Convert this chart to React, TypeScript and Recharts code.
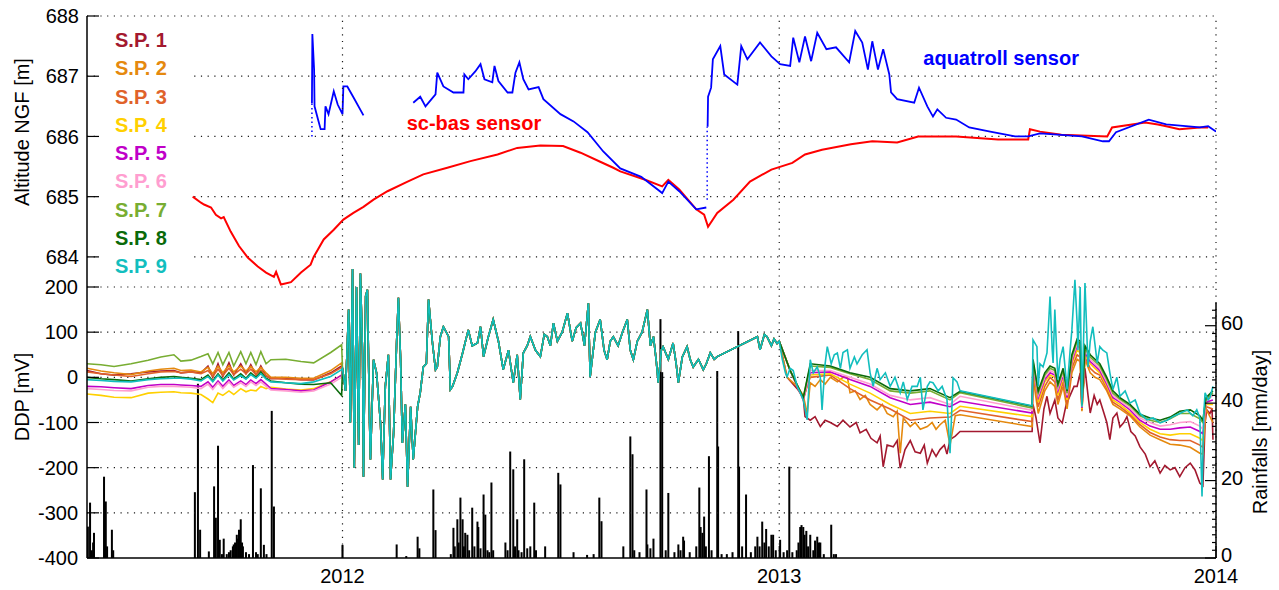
import React from 'react';
import {
  ComposedChart,
  LineChart,
  Line,
  Bar,
  XAxis,
  YAxis,
  ReferenceLine,
  ReferenceDot,
  Legend,
} from 'recharts';

type Pt = [number, number | null];

// ---------- Groundwater level, m NGF (time in decimal years) ----------
const scBasLevel: Pt[] = [
  [2011.657, 685.0], [2011.676, 684.9], [2011.683, 684.87], [2011.699, 684.82], [2011.71, 684.7],
  [2011.722, 684.64], [2011.728, 684.66], [2011.744, 684.42], [2011.763, 684.18], [2011.783, 683.99],
  [2011.806, 683.84], [2011.825, 683.74], [2011.843, 683.67], [2011.848, 683.75], [2011.859, 683.54],
  [2011.882, 683.58], [2011.905, 683.74], [2011.927, 683.87], [2011.934, 684.0], [2011.957, 684.29],
  [2011.98, 684.45], [2012.002, 684.62], [2012.025, 684.73], [2012.048, 684.83], [2012.071, 684.95],
  [2012.103, 685.09], [2012.149, 685.25], [2012.185, 685.37], [2012.24, 685.48], [2012.293, 685.59],
  [2012.355, 685.7], [2012.4, 685.81], [2012.453, 685.85], [2012.505, 685.84], [2012.545, 685.73],
  [2012.59, 685.58], [2012.62, 685.48], [2012.636, 685.42], [2012.693, 685.28], [2012.732, 685.17],
  [2012.746, 685.28], [2012.771, 685.12], [2012.81, 684.79], [2012.828, 684.7], [2012.837, 684.5],
  [2012.858, 684.73], [2012.895, 684.95], [2012.933, 685.25], [2012.982, 685.45], [2013.03, 685.56],
  [2013.059, 685.7], [2013.098, 685.78], [2013.164, 685.87], [2013.213, 685.92], [2013.27, 685.9],
  [2013.318, 686.0], [2013.405, 686.0], [2013.501, 685.95], [2013.57, 685.95], [2013.574, 686.12],
  [2013.597, 686.08], [2013.646, 686.03], [2013.751, 686.0], [2013.762, 686.15], [2013.838, 686.23],
  [2013.867, 686.2], [2013.886, 686.17], [2013.916, 686.12], [2013.963, 686.15], [2013.982, 686.15],
];

const aquatrollLevel: Pt[] = [
  [2011.93, 686.55], [2011.931, 687.7], [2011.935, 687.11], [2011.936, 686.5], [2011.944, 686.28],
  [2011.95, 686.12], [2011.959, 686.12], [2011.961, 686.5], [2011.968, 686.37], [2011.98, 686.75],
  [2011.989, 686.53], [2012.0, 686.37], [2012.002, 686.83], [2012.011, 686.83], [2012.025, 686.65],
  [2012.048, 686.35],
  [2012.1, null],
  [2012.162, 686.56], [2012.178, 686.66], [2012.19, 686.5], [2012.213, 686.7], [2012.217, 687.06],
  [2012.231, 686.83], [2012.254, 686.73], [2012.277, 686.73], [2012.279, 687.03], [2012.288, 686.95],
  [2012.304, 687.08], [2012.316, 687.2], [2012.325, 686.95], [2012.343, 686.9], [2012.348, 687.17],
  [2012.357, 686.92], [2012.378, 686.73], [2012.389, 686.73], [2012.396, 687.06], [2012.405, 687.23],
  [2012.414, 686.95], [2012.426, 686.78], [2012.449, 686.82], [2012.46, 686.62], [2012.499, 686.37],
  [2012.529, 686.25], [2012.561, 686.07], [2012.597, 685.75], [2012.636, 685.47], [2012.684, 685.33],
  [2012.732, 685.06], [2012.746, 685.25], [2012.771, 685.09], [2012.81, 684.79], [2012.833, 684.82],
  [2012.835, null],
  [2012.836, 686.16], [2012.837, 686.66], [2012.844, 686.81], [2012.848, 687.28], [2012.865, 687.5],
  [2012.874, 687.03], [2012.904, 686.86], [2012.913, 687.5], [2012.927, 687.28], [2012.956, 687.56],
  [2012.982, 687.33], [2013.002, 687.2], [2013.025, 687.17], [2013.032, 687.64], [2013.046, 687.23],
  [2013.059, 687.66], [2013.073, 687.25], [2013.087, 687.72], [2013.108, 687.45], [2013.13, 687.48],
  [2013.16, 687.23], [2013.174, 687.75], [2013.19, 687.56], [2013.203, 687.11], [2013.213, 687.58],
  [2013.226, 687.11], [2013.238, 687.45], [2013.252, 687.03], [2013.256, 686.73], [2013.27, 686.62],
  [2013.309, 686.56], [2013.32, 686.81], [2013.339, 686.5], [2013.352, 686.33], [2013.362, 686.45],
  [2013.382, 686.31], [2013.405, 686.28], [2013.435, 686.15], [2013.483, 686.08], [2013.54, 686.0],
  [2013.57, 686.0], [2013.597, 686.05], [2013.693, 686.0], [2013.741, 685.92], [2013.755, 685.92],
  [2013.771, 686.07], [2013.846, 686.28], [2013.886, 686.2], [2013.963, 686.15], [2013.982, 686.17],
  [2014.0, 686.08],
];

// sparse aquatroll readings (drawn dotted)
const aquatrollSparse: Pt[] = [
  [2011.93, 686.0], [2011.93, 686.55],
  [2012.5, null],
  [2012.835, 684.95], [2012.835, 686.16],
];

// ---------- Self-potential electrodes ----------
const sensorNames = ['S.P. 1', 'S.P. 2', 'S.P. 3', 'S.P. 4', 'S.P. 5', 'S.P. 6', 'S.P. 7', 'S.P. 8', 'S.P. 9'];
const sensorColors = ['#A3192F', '#E5890E', '#E0622A', '#FFD000', '#C000C8', '#FF9ED0', '#78AD32', '#0A6A0A', '#12BEBE'];

// 2011 record, sampled on a common time base (mV)
const earlyTimes = [
  2011.415, 2011.447, 2011.477, 2011.516, 2011.555, 2011.584, 2011.614, 2011.63, 2011.653, 2011.676,
  2011.692, 2011.703, 2011.715, 2011.726, 2011.74, 2011.751, 2011.767, 2011.779, 2011.79, 2011.802,
  2011.813, 2011.825, 2011.836, 2011.87, 2011.905, 2011.934, 2011.973, 2011.998,
];
const sp1Early = [15, 8, 5, 8, 12, 14, 15, 10, 12, 10, 25, 0, 30, 2, 32, 5, 30, 8, 28, 5, 25, 3, -3, -2, -5, -6, 10, 25];
const sp2Early = [20, 14, 10, 6, 14, 18, 20, 15, 16, 12, 22, 8, 25, 10, 26, 12, 25, 14, 24, 12, 22, 10, 0, 0, -2, -2, 15, 32];
const sp3Early = [12, 8, 5, 2, 8, 12, 13, 10, 12, 8, 15, 2, 18, 4, 20, 6, 18, 8, 18, 6, 16, 4, -2, -4, -5, -5, 8, 22];
const sp4Early = [-37, -40, -44, -45, -35, -33, -32, -34, -35, -38, -48, -56, -35, -40, -30, -38, -25, -32, -28, -30, -20, -25, -22, -26, -28, -25, -10, 5];
const sp5Early = [-20, -21, -23, -25, -18, -16, -16, -17, -18, -20, -10, -22, -8, -20, -6, -18, -8, -16, -6, -14, -5, -15, -25, -27, -30, -28, -10, 5];
const sp6Early = [-25, -27, -29, -30, -22, -20, -20, -21, -22, -25, -15, -27, -12, -25, -10, -22, -12, -20, -10, -18, -10, -20, -28, -30, -33, -30, -15, 0];
const sp7Early = [30, 28, 24, 30, 38, 45, 50, 36, 38, 46, 52, 30, 55, 28, 55, 25, 57, 30, 55, 28, 57, 30, 39, 40, 35, 32, 55, 72];
const sp8Early = [0, -3, -5, -8, -3, 0, 2, 0, -2, -5, 5, -8, 8, -6, 10, -4, 8, -2, 10, 0, 12, -2, -8, -12, -15, -16, -12, -40];
const sp9Early = [-5, -7, -9, -10, -5, -3, -2, -2, -4, -8, 2, -10, 5, -8, 6, -6, 4, -4, 6, -2, 8, -4, -10, -12, -14, -10, 2, 17];

// 2012: all electrodes read the same signal
const ddp2012: Pt[] = [
  [2012.0, 20], [2012.007, -30], [2012.014, 150], [2012.018, -100], [2012.023, 240], [2012.027, -200],
  [2012.032, 200], [2012.037, -150], [2012.041, 230], [2012.046, 50], [2012.048, -220], [2012.053, 180],
  [2012.057, 194], [2012.062, -100], [2012.064, -182], [2012.071, 39], [2012.078, 10], [2012.087, -101],
  [2012.092, -226], [2012.098, -20], [2012.105, 50], [2012.11, -226], [2012.117, -123], [2012.124, 80],
  [2012.128, 176], [2012.133, 40], [2012.137, -145], [2012.144, -60], [2012.149, -242], [2012.156, -65],
  [2012.162, -182], [2012.172, -65], [2012.178, -34], [2012.185, 23], [2012.192, 30], [2012.197, 172],
  [2012.206, 76], [2012.213, 17], [2012.217, 23], [2012.224, 90], [2012.231, 112], [2012.243, 90],
  [2012.247, -27], [2012.252, -20], [2012.263, 10], [2012.275, 54], [2012.288, 105], [2012.297, 70],
  [2012.309, 76], [2012.316, 112], [2012.323, 46], [2012.334, 90], [2012.345, 128], [2012.357, 80],
  [2012.368, 17], [2012.38, 60], [2012.391, -12], [2012.4, 50], [2012.407, -49], [2012.414, 54],
  [2012.423, 70], [2012.43, 90], [2012.442, 60], [2012.453, 46], [2012.462, 95], [2012.469, 90],
  [2012.476, 70], [2012.483, 120], [2012.492, 80], [2012.503, 100], [2012.515, 142], [2012.526, 80],
  [2012.535, 110], [2012.545, 120], [2012.554, 70], [2012.563, 164], [2012.567, 1], [2012.579, 100],
  [2012.59, 128], [2012.599, 60], [2012.606, 39], [2012.613, 80], [2012.62, 90], [2012.631, 70],
  [2012.641, 100], [2012.652, 128], [2012.659, 60], [2012.666, 39], [2012.675, 80], [2012.686, 100],
  [2012.698, 150], [2012.705, 70], [2012.712, 90], [2012.718, 40], [2012.723, -12], [2012.73, 60],
  [2012.734, 68], [2012.746, 40], [2012.757, 76], [2012.764, 30], [2012.769, -12], [2012.778, 45],
  [2012.789, 68], [2012.796, 40], [2012.803, 23], [2012.815, 40], [2012.826, 17], [2012.833, 30],
  [2012.842, 54], [2012.851, 40], [2012.858, 46], [2012.95, 90], [2012.956, 61], [2012.966, 95],
  [2012.972, 90], [2012.982, 70], [2012.988, 85], [2012.995, 75],
];

// 2013 record of electrodes 1, 2 and 9
const sp1Late: Pt[] = [
  [2013.0, 80], [2013.018, 0], [2013.041, -25], [2013.055, -45], [2013.059, -87], [2013.071, -95],
  [2013.082, -87], [2013.094, -109], [2013.105, -95], [2013.117, -100], [2013.133, -109], [2013.146, -95],
  [2013.162, -110], [2013.176, -100], [2013.185, -123], [2013.199, -115], [2013.21, -135], [2013.224, -145],
  [2013.231, -130], [2013.238, -198], [2013.247, -150], [2013.261, -154], [2013.27, -140], [2013.277, -201],
  [2013.288, -160], [2013.3, -140], [2013.311, -165], [2013.323, -168], [2013.332, -150], [2013.339, -190],
  [2013.35, -160], [2013.359, -175], [2013.368, -160], [2013.378, -150], [2013.384, -170], [2013.391, -138],
  [2013.403, -130], [2013.414, -120], [2013.579, -120], [2013.581, -60], [2013.588, -90], [2013.597, -145],
  [2013.606, -70], [2013.613, -42], [2013.62, -80], [2013.631, -50], [2013.638, -90], [2013.648, -101],
  [2013.657, -60], [2013.666, -40], [2013.675, -20], [2013.682, -20], [2013.689, 10], [2013.693, -60],
  [2013.7, 20], [2013.707, -40], [2013.712, -79], [2013.721, -40], [2013.728, -60], [2013.734, -50],
  [2013.741, -72], [2013.75, -100], [2013.757, -138], [2013.764, -90], [2013.773, -79], [2013.78, -110],
  [2013.789, -100], [2013.796, -87], [2013.805, -120], [2013.815, -130], [2013.826, -154], [2013.838, -170],
  [2013.849, -198], [2013.86, -185], [2013.872, -212], [2013.883, -195], [2013.895, -205], [2013.906, -200],
  [2013.917, -220], [2013.929, -200], [2013.941, -190], [2013.952, -205], [2013.963, -234], [2013.97, -240],
  [2013.975, -100], [2013.979, -72], [2013.986, -80], [2013.991, -70], [2013.993, -138],
];
const sp2Late: Pt[] = [
  [2013.0, 80], [2013.018, 0], [2013.041, -20], [2013.055, -40], [2013.064, -80], [2013.071, -12],
  [2013.082, -20], [2013.094, -5], [2013.105, -15], [2013.117, 0], [2013.133, -10], [2013.146, 0],
  [2013.156, 1], [2013.162, -34], [2013.174, -30], [2013.185, -49], [2013.197, -40], [2013.208, -60],
  [2013.224, -72], [2013.236, -60], [2013.247, -80], [2013.261, -87], [2013.27, -75], [2013.277, -168],
  [2013.284, -90], [2013.3, -109], [2013.311, -100], [2013.323, -115], [2013.339, -109], [2013.35, -100],
  [2013.359, -115], [2013.368, -105], [2013.38, -95], [2013.391, -150], [2013.403, -85], [2013.414, -83],
  [2013.579, -109], [2013.581, 0], [2013.593, -80], [2013.608, -30], [2013.62, -10], [2013.631, -20],
  [2013.638, -60], [2013.65, -20], [2013.659, -70], [2013.67, 10], [2013.682, 40], [2013.689, 35],
  [2013.693, -75], [2013.7, 40], [2013.712, 10], [2013.723, 0], [2013.734, -5], [2013.75, -30],
  [2013.764, -60], [2013.78, -70], [2013.803, -85], [2013.826, -110], [2013.849, -128], [2013.872, -138],
  [2013.895, -148], [2013.917, -150], [2013.941, -155], [2013.963, -168], [2013.97, -170], [2013.977, -70],
  [2013.993, -100],
];
const sp9Late: Pt[] = [
  [2013.0, 80], [2013.007, 40], [2013.014, 10], [2013.018, 1], [2013.025, 20], [2013.032, 15],
  [2013.041, -20], [2013.048, -34], [2013.055, -50], [2013.064, -94], [2013.071, 39], [2013.078, 10],
  [2013.087, 23], [2013.094, 0], [2013.098, -72], [2013.105, 30], [2013.11, 68], [2013.119, 30],
  [2013.126, 50], [2013.133, 54], [2013.14, 20], [2013.146, 55], [2013.156, 61], [2013.162, 20],
  [2013.172, 45], [2013.178, 30], [2013.19, 50], [2013.201, 61], [2013.208, 10], [2013.215, -20],
  [2013.224, 20], [2013.231, -5], [2013.243, 10], [2013.254, -20], [2013.265, 0], [2013.277, -34],
  [2013.284, -10], [2013.293, -49], [2013.304, -20], [2013.316, -20], [2013.323, 0], [2013.329, -72],
  [2013.339, -20], [2013.345, -10], [2013.352, -12], [2013.364, -30], [2013.373, -20], [2013.384, -49],
  [2013.391, -168], [2013.398, -1], [2013.407, -10], [2013.414, -30], [2013.579, -63], [2013.581, 83],
  [2013.59, 68], [2013.593, -20], [2013.597, 30], [2013.604, 23], [2013.613, 54], [2013.62, 179],
  [2013.625, 60], [2013.627, 32], [2013.631, 150], [2013.638, -5], [2013.643, 40], [2013.65, 68],
  [2013.659, -27], [2013.666, 60], [2013.67, 105], [2013.677, 216], [2013.682, 120], [2013.684, 60],
  [2013.689, 200], [2013.693, -65], [2013.7, 209], [2013.707, 23], [2013.712, 80], [2013.718, 112],
  [2013.728, 32], [2013.734, 68], [2013.741, 60], [2013.75, 54], [2013.757, 10], [2013.764, -27],
  [2013.773, 0], [2013.78, -42], [2013.792, -30], [2013.803, -57], [2013.815, -50], [2013.826, -80],
  [2013.842, -94], [2013.856, -90], [2013.872, -101], [2013.888, -95], [2013.901, -87], [2013.917, -80],
  [2013.934, -72], [2013.947, -85], [2013.956, -72], [2013.963, -90], [2013.968, -264], [2013.972, -80],
  [2013.975, -34], [2013.982, -50], [2013.986, -45], [2013.993, -20],
];

// 2013 record of electrodes 3 to 8, on a common time base
const lateTimes = [
  2013.0, 2013.025, 2013.055, 2013.071, 2013.117, 2013.162, 2013.208, 2013.254, 2013.3, 2013.345,
  2013.391, 2013.414, 2013.579, 2013.581, 2013.593, 2013.608, 2013.62, 2013.631, 2013.638, 2013.65,
  2013.659, 2013.67, 2013.682, 2013.689, 2013.693, 2013.7, 2013.712, 2013.723, 2013.734, 2013.75,
  2013.764, 2013.78, 2013.803, 2013.826, 2013.849, 2013.872, 2013.895, 2013.917, 2013.941, 2013.963,
  2013.97, 2013.977, 2013.993,
];
const sp3Late = [80, 15, -45, 0, 5, -25, -50, -70, -95, -90, -88, -73, -98, 10, -65, -20, 0, -10, -50, -10, -60, 20, 50, 45, -72, 45, 20, 10, 5, -25, -55, -65, -82, -105, -122, -132, -138, -140, -140, -150, -155, -65, -70];
const sp4Late = [80, 15, -50, 5, 8, -15, -35, -60, -80, -75, -80, -64, -87, 20, -55, -10, 5, 0, -40, 0, -50, 30, 60, 55, -70, 50, 30, 20, 10, -20, -50, -60, -78, -100, -115, -125, -128, -125, -125, -135, -140, -60, -60];
const sp5Late = [80, 15, -50, 10, 12, -5, -20, -45, -60, -55, -65, -53, -79, 25, -45, -5, 10, 5, -30, 5, -45, 35, 70, 65, -68, 55, 35, 25, 15, -15, -45, -55, -72, -95, -108, -115, -115, -112, -110, -120, -125, -55, -50];
const sp6Late = [80, 15, -48, 15, 15, 0, -15, -40, -50, -45, -60, -42, -73, 30, -40, 0, 15, 10, -25, 10, -40, 40, 75, 70, -65, 60, 40, 30, 20, -10, -40, -52, -68, -90, -100, -108, -105, -100, -98, -108, -115, -52, -40];
const sp7Late = [80, 15, -45, 25, 22, 8, -5, -30, -35, -30, -50, -34, -68, 35, -35, 5, 20, 15, -20, 15, -35, 45, 80, 75, -62, 65, 45, 35, 25, -5, -35, -48, -63, -85, -95, -100, -92, -80, -80, -92, -100, -48, -35];
const sp8Late = [80, 15, -45, 30, 25, 10, 0, -25, -30, -25, -45, -31, -64, 40, -30, 10, 25, 20, -15, 20, -30, 50, 85, 80, -60, 70, 50, 40, 30, 0, -30, -45, -60, -82, -90, -95, -88, -75, -72, -85, -95, -45, -30];

// ---------- Daily rainfall, mm/day ----------
const rainfall: Pt[] = [
  [2011.417, 8.1], [2011.422, 14.3], [2011.426, 2], [2011.429, 4], [2011.431, 6.5], [2011.454, 21],
  [2011.458, 14.6], [2011.461, 3], [2011.472, 7.3], [2011.475, 2],
  [2011.662, 17], [2011.669, 45], [2011.674, 7.3], [2011.694, 1.7], [2011.706, 18.5], [2011.71, 10.4],
  [2011.715, 29], [2011.719, 4.7], [2011.724, 1], [2011.728, 5], [2011.735, 1], [2011.74, 1.5],
  [2011.744, 2], [2011.749, 3], [2011.751, 3.5], [2011.754, 4], [2011.758, 6], [2011.761, 5],
  [2011.763, 7.3], [2011.767, 10], [2011.77, 4], [2011.772, 3], [2011.779, 1.5], [2011.786, 1],
  [2011.795, 24], [2011.802, 1.5], [2011.806, 1], [2011.813, 18], [2011.82, 3.4], [2011.826, 1],
  [2011.838, 38], [2011.843, 13.3],
  [2012.0, 3.4], [2012.124, 3.5], [2012.146, 0.5], [2012.172, 5.5], [2012.176, 2.5], [2012.208, 17.7],
  [2012.213, 7.2], [2012.248, 1], [2012.254, 7.8], [2012.257, 3], [2012.263, 10], [2012.266, 4],
  [2012.27, 15.6], [2012.275, 10], [2012.278, 3], [2012.281, 6.5], [2012.286, 6], [2012.29, 2],
  [2012.297, 13], [2012.302, 3], [2012.309, 9.4], [2012.311, 8], [2012.316, 2.5], [2012.323, 16.4],
  [2012.327, 11.2], [2012.332, 2], [2012.336, 1.5], [2012.341, 19.5], [2012.345, 2], [2012.373, 4],
  [2012.378, 2], [2012.384, 27.5], [2012.391, 22.9], [2012.395, 3], [2012.4, 10], [2012.403, 2],
  [2012.41, 1.5], [2012.416, 25.5], [2012.423, 2.5], [2012.43, 3], [2012.439, 14.3], [2012.443, 2],
  [2012.464, 3], [2012.494, 22], [2012.499, 19], [2012.529, 1.5], [2012.56, 0.8], [2012.575, 1],
  [2012.588, 15.6], [2012.593, 9.5], [2012.643, 3], [2012.659, 31.4], [2012.664, 26.8], [2012.668, 2],
  [2012.68, 1.5], [2012.696, 17.7], [2012.698, 3.5], [2012.705, 2.5], [2012.712, 5], [2012.728, 61.7],
  [2012.732, 48], [2012.74, 2], [2012.746, 16.8], [2012.76, 1.5], [2012.769, 3.5], [2012.774, 2],
  [2012.78, 5.5], [2012.782, 4.5], [2012.795, 1.5], [2012.81, 3], [2012.817, 18.2], [2012.82, 8],
  [2012.824, 6.5], [2012.828, 10.7], [2012.832, 3], [2012.839, 26.3], [2012.845, 2], [2012.858, 48.3],
  [2012.86, 28.8], [2012.868, 1], [2012.88, 1], [2012.893, 1.5], [2012.906, 58.6], [2012.908, 23.6],
  [2012.915, 3], [2012.924, 16.4], [2012.935, 1.5], [2012.945, 3], [2012.95, 5.5], [2012.955, 3],
  [2012.961, 9.4], [2012.966, 4], [2012.97, 7.5], [2012.976, 3], [2012.982, 6], [2012.986, 6],
  [2012.992, 2], [2013.002, 4.7], [2013.01, 1.5], [2013.018, 2], [2013.023, 23.6], [2013.03, 1.5],
  [2013.04, 2], [2013.044, 4], [2013.048, 8], [2013.051, 8.5], [2013.055, 8], [2013.058, 6],
  [2013.062, 7], [2013.066, 3], [2013.071, 6], [2013.078, 2], [2013.082, 4.5], [2013.087, 5.5],
  [2013.091, 4], [2013.094, 4], [2013.102, 1], [2013.119, 8.6], [2013.125, 1], [2013.13, 1],
];

// ---------- axes ----------
const yearTicks = [2012, 2013, 2014];
const altTicks = [684, 685, 686, 687, 688];
const ddpTicks = [-400, -300, -200, -100, 0, 100, 200];
const rainMajor = [0, 20, 40, 60];
const rainTicks = Array.from({ length: 33 }, (_, i) => i * 2);

const X_DOMAIN: [number, number] = [2011.415, 2014];
const W = 1279;
const H = 590;
const FONT = '"Liberation Sans", Arial, Helvetica, sans-serif';
const GRID = { stroke: '#1a1a1a', strokeWidth: 1.2, strokeDasharray: '1.2 5.5' };

const toRows = (pts: Pt[]) => pts.map(([t, v]) => ({ t, v }));
const zipRows = (times: number[], vals: number[]) => times.map((t, i) => ({ t, v: vals[i] }));

const shared2012 = toRows(ddp2012);
const sensorRows = [
  [...zipRows(earlyTimes, sp1Early), ...shared2012, ...toRows(sp1Late)],
  [...zipRows(earlyTimes, sp2Early), ...shared2012, ...toRows(sp2Late)],
  [...zipRows(earlyTimes, sp3Early), ...shared2012, ...zipRows(lateTimes, sp3Late)],
  [...zipRows(earlyTimes, sp4Early), ...shared2012, ...zipRows(lateTimes, sp4Late)],
  [...zipRows(earlyTimes, sp5Early), ...shared2012, ...zipRows(lateTimes, sp5Late)],
  [...zipRows(earlyTimes, sp6Early), ...shared2012, ...zipRows(lateTimes, sp6Late)],
  [...zipRows(earlyTimes, sp7Early), ...shared2012, ...zipRows(lateTimes, sp7Late)],
  [...zipRows(earlyTimes, sp8Early), ...shared2012, ...zipRows(lateTimes, sp8Late)],
  [...zipRows(earlyTimes, sp9Early), ...shared2012, ...toRows(sp9Late)],
];
const rainRows = rainfall.map(([t, mm]) => ({ t, mm }));

const tickText = { fill: '#000', fontSize: 20, fontFamily: FONT };

const axisTitle = (text: string, x: number, y: number) => () => (
  <text
    transform={`translate(${x},${y}) rotate(-90)`}
    textAnchor="middle"
    dominantBaseline="central"
    fontSize={20}
    fontFamily={FONT}
    fill="#000"
  >
    {text}
  </text>
);

const RainTick = (p: any) => {
  const v = p.payload.value as number;
  const major = rainMajor.includes(v);
  const ax = p.x - 4;
  return (
    <g>
      <line x1={ax - (major ? 11 : 4)} x2={ax} y1={p.y} y2={p.y} stroke="#000" strokeWidth={1.2} />
      {major && (
        <text x={p.x + 1} y={p.y - 3} dy="0.36em" textAnchor="start" fontSize={20} fontFamily={FONT} fill="#000">
          {v}
        </text>
      )}
    </g>
  );
};

// rainfall stem: a thin black bar centred on its day
const RainStem = (p: any) => {
  const { x, y, width, height } = p;
  if (!height || height <= 0) return null;
  return <rect x={x + width / 2 - 1} y={y} width={2} height={height} fill="#000" />;
};

const SensorLegend = () => (
  <div style={{ paddingLeft: 15, fontFamily: FONT }}>
    {sensorNames.map((n, i) => (
      <div
        key={n}
        style={{
          height: 28.3,
          lineHeight: '28.3px',
          fontSize: 20,
          fontWeight: 'bold',
          color: sensorColors[i],
          whiteSpace: 'nowrap',
        }}
      >
        {n}
      </div>
    ))}
  </div>
);

export default function App() {
  return (
    <div style={{ position: 'absolute', left: 0, top: 0, width: W, height: H, background: '#fff', fontFamily: FONT }}>
      {/* upper panel: groundwater level */}
      <div style={{ position: 'absolute', left: 0, top: 0 }}>
        <LineChart width={W} height={H} margin={{ top: 16, right: 63, bottom: 32, left: 27 }}>
          <XAxis type="number" dataKey="t" domain={X_DOMAIN} allowDataOverflow hide />
          <YAxis
            type="number"
            domain={[679, 688]}
            ticks={altTicks}
            allowDataOverflow
            width={60}
            axisLine={false}
            tickSize={-12}
            tickMargin={20}
            tickLine={{ stroke: '#000', strokeWidth: 1.2 }}
            tick={tickText}
            label={{ content: axisTitle('Altitude NGF [m]', 22, 132) }}
          />
          {altTicks.map((v) => (
            <ReferenceLine key={v} y={v} {...GRID} />
          ))}
          <Line data={toRows(scBasLevel)} dataKey="v" type="linear" stroke="#FF0000" strokeWidth={2} dot={false} isAnimationActive={false} />
          <Line data={toRows(aquatrollSparse)} dataKey="v" type="linear" stroke="#0000FF" strokeWidth={1.5} strokeDasharray="1.5 3" dot={false} isAnimationActive={false} />
          <Line data={toRows(aquatrollLevel)} dataKey="v" type="linear" stroke="#0000FF" strokeWidth={1.8} dot={false} isAnimationActive={false} />
          <ReferenceDot
            x={2012.301}
            y={686.23}
            r={1}
            fill="none"
            stroke="none"
            label={{ value: 'sc-bas sensor', position: 'center', fill: '#FF0000', fontSize: 20, fontWeight: 'bold', fontFamily: FONT }}
          />
          <ReferenceDot
            x={2013.508}
            y={687.31}
            r={1}
            fill="none"
            stroke="none"
            label={{ value: 'aquatroll sensor', position: 'center', fill: '#0000FF', fontSize: 20, fontWeight: 'bold', fontFamily: FONT }}
          />
        </LineChart>
      </div>

      {/* lower panel: self-potential and rainfall */}
      <div style={{ position: 'absolute', left: 0, top: 0 }}>
        <ComposedChart width={W} height={H} data={rainRows} margin={{ top: 16, right: 3, bottom: 0, left: 27 }}>
          <XAxis
            type="number"
            dataKey="t"
            domain={X_DOMAIN}
            allowDataOverflow
            ticks={yearTicks}
            height={32}
            tickSize={-12}
            tickMargin={23}
            axisLine={{ stroke: '#000', strokeWidth: 1.5 }}
            tickLine={{ stroke: '#000', strokeWidth: 1.2 }}
            tick={tickText}
          />
          <YAxis
            yAxisId="ddp"
            type="number"
            domain={[-400, 800]}
            ticks={ddpTicks}
            allowDataOverflow
            width={60}
            tickSize={-12}
            tickMargin={21}
            axisLine={{ stroke: '#000', strokeWidth: 1.5 }}
            tickLine={{ stroke: '#000', strokeWidth: 1.2 }}
            tick={tickText}
            label={{ content: axisTitle('DDP [mV]', 22, 397) }}
          />
          <YAxis
            yAxisId="rain"
            orientation="right"
            type="number"
            domain={[0, 140]}
            ticks={rainTicks}
            interval={0}
            allowDataOverflow
            width={60}
            axisLine={false}
            tickLine={false}
            tickSize={0}
            tickMargin={4}
            tick={<RainTick />}
            label={{ content: axisTitle('Rainfalls [mm/day]', 1260, 432) }}
          />

          {ddpTicks.filter((v) => v > -400).map((v) => (
            <ReferenceLine key={v} yAxisId="ddp" y={v} {...GRID} />
          ))}
          {yearTicks.map((v) => (
            <ReferenceLine key={v} yAxisId="ddp" x={v} {...GRID} />
          ))}

          {sensorRows.map((rows, i) => (
            <Line
              key={sensorNames[i]}
              name={sensorNames[i]}
              yAxisId="ddp"
              data={rows}
              dataKey="v"
              type="linear"
              stroke={sensorColors[i]}
              strokeWidth={1.6}
              dot={false}
              isAnimationActive={false}
            />
          ))}

          <Bar yAxisId="rain" dataKey="mm" fill="#000" shape={RainStem} isAnimationActive={false} legendType="none" />

          <ReferenceLine
            yAxisId="rain"
            segment={[{ x: 2014, y: 0 }, { x: 2014, y: 66 }]}
            stroke="#000"
            strokeWidth={1.5}
          />

          <Legend
            layout="horizontal"
            verticalAlign="middle"
            align="center"
            content={() => <SensorLegend />}
            wrapperStyle={{ left: 100, top: 26, width: 91, height: 257, background: '#fff', margin: 0, padding: 0 }}
          />
        </ComposedChart>
      </div>
    </div>
  );
}
